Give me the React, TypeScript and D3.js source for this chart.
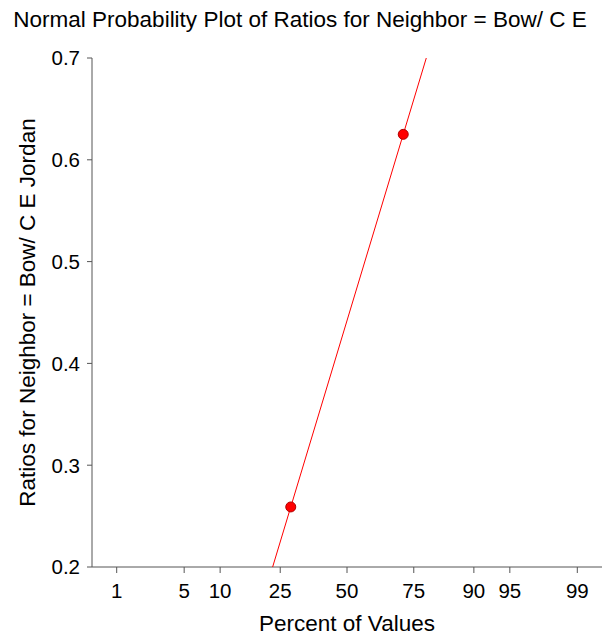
import React from "react";
import * as d3 from "d3";

// Plotted observations: cumulative percent (plotting position) and ratio value
const pointPercents = [28.5, 71.5];
const pointRatios = [0.259, 0.625];

// Axis tick labels
const percentTicks = [1, 5, 10, 25, 50, 75, 90, 95, 99];
const ratioTicks = [0.2, 0.3, 0.4, 0.5, 0.6, 0.7];

const title = "Normal Probability Plot of Ratios for Neighbor = Bow/ C E";
const xTitle = "Percent of Values";
const yTitle = "Ratios for Neighbor = Bow/ C E Jordan";

const W = 605;
const H = 639;
const left = 92;
const right = 602;
const top = 58;
const bottom = 567;
const font = "Liberation Sans, Arial, Helvetica, sans-serif";
const axisColor = "#555";

// inverse normal CDF (Acklam's approximation)
function qnorm(p: number): number {
  const a = [-3.969683028665376e1, 2.209460984245205e2, -2.759285104469687e2, 1.38357751867269e2, -3.066479806614716e1, 2.506628277459239];
  const b = [-5.447609879822406e1, 1.615858368580409e2, -1.556989798598866e2, 6.680131188771972e1, -1.328068155288572e1];
  const c = [-7.784894002430293e-3, -3.223964580411365e-1, -2.400758277161838, -2.549732539343734, 4.374664141464968, 2.938163982698783];
  const d = [7.784695709041462e-3, 3.224671290700398e-1, 2.445134137142996, 3.754408661907416];
  const pl = 0.02425;
  if (p < pl) {
    const q = Math.sqrt(-2 * Math.log(p));
    return (((((c[0] * q + c[1]) * q + c[2]) * q + c[3]) * q + c[4]) * q + c[5]) / ((((d[0] * q + d[1]) * q + d[2]) * q + d[3]) * q + 1);
  } else if (p <= 1 - pl) {
    const q = p - 0.5;
    const r = q * q;
    return ((((((a[0] * r + a[1]) * r + a[2]) * r + a[3]) * r + a[4]) * r + a[5]) * q) / (((((b[0] * r + b[1]) * r + b[2]) * r + b[3]) * r + b[4]) * r + 1);
  }
  const q = Math.sqrt(-2 * Math.log(1 - p));
  return -(((((c[0] * q + c[1]) * q + c[2]) * q + c[3]) * q + c[4]) * q + c[5]) / ((((d[0] * q + d[1]) * q + d[2]) * q + d[3]) * q + 1);
}

export default function App() {
  const zPct = (pct: number) => qnorm(pct / 100);
  const zMax = qnorm(0.995);
  const x = d3.scaleLinear().domain([-zMax, zMax]).range([left, right]);
  const y = d3.scaleLinear().domain([0.2, 0.7]).range([bottom, top]);

  // least-squares line of ratio on normal score
  const zs = pointPercents.map(zPct);
  const mz = d3.mean(zs)!;
  const my = d3.mean(pointRatios)!;
  const sxy = d3.sum(zs.map((z, i) => (z - mz) * (pointRatios[i] - my)));
  const sxx = d3.sum(zs.map((z) => (z - mz) ** 2));
  const slope = sxy / sxx;
  const icpt = my - slope * mz;
  const [y0, y1] = y.domain();
  const lineZ0 = (y0 - icpt) / slope;
  const lineZ1 = (y1 - icpt) / slope;

  return (
    <svg width={W} height={H} style={{ display: "block", position: "absolute", left: 0, top: 0 }}>
      <rect width={W} height={H} fill="#fff" />
      <text x={300} y={27} textAnchor="middle" fontFamily={font} fontSize={22.5} fill="#000">
        {title}
      </text>

      {/* y axis */}
      <line x1={left} x2={left} y1={top} y2={bottom} stroke={axisColor} strokeWidth={1} />
      {ratioTicks.map((t) => (
        <g key={t}>
          <line x1={left - 5} x2={left} y1={y(t)} y2={y(t)} stroke={axisColor} />
          <text x={left - 12} y={y(t)} dy="0.36em" textAnchor="end" fontFamily={font} fontSize={20.5} fill="#000">
            {t.toFixed(1)}
          </text>
        </g>
      ))}
      <text
        transform={`translate(27,${(top + bottom) / 2}) rotate(-90)`}
        textAnchor="middle"
        dy="0.36em"
        fontFamily={font}
        fontSize={22.5}
        fill="#000"
      >
        {yTitle}
      </text>

      {/* x axis */}
      <line x1={left} x2={right} y1={bottom} y2={bottom} stroke={axisColor} strokeWidth={1} />
      {percentTicks.map((t) => (
        <g key={t}>
          <line x1={x(zPct(t))} x2={x(zPct(t))} y1={bottom} y2={bottom + 6} stroke={axisColor} />
          <text x={x(zPct(t))} y={598} textAnchor="middle" fontFamily={font} fontSize={20.5} fill="#000">
            {t}
          </text>
        </g>
      ))}
      <text x={347} y={631} textAnchor="middle" fontFamily={font} fontSize={22.5} fill="#000">
        {xTitle}
      </text>

      {/* fitted line */}
      <line x1={x(lineZ0)} y1={y(y0)} x2={x(lineZ1)} y2={y(y1)} stroke="#ff0000" strokeWidth={1} />

      {/* observations */}
      {zs.map((z, i) => (
        <circle key={i} cx={x(z)} cy={y(pointRatios[i])} r={5} fill="#ff0000" stroke="#b00000" strokeWidth={1} />
      ))}
    </svg>
  );
}
